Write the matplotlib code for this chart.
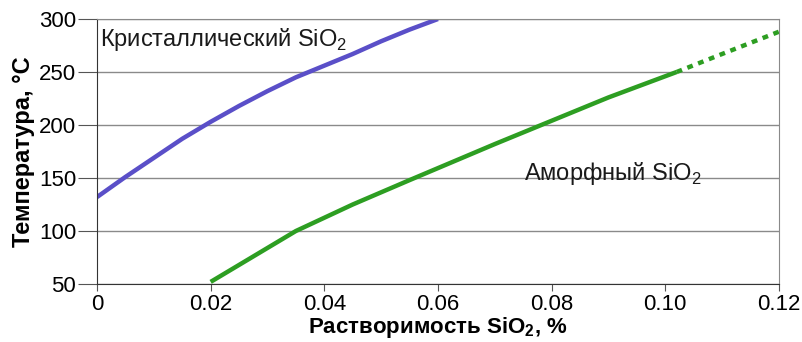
import matplotlib
matplotlib.use("Agg")
import matplotlib.pyplot as plt

plt.rcParams['font.family'] = ['Liberation Sans', 'DejaVu Sans']
plt.rcParams['mathtext.fontset'] = 'custom'
plt.rcParams['mathtext.rm'] = 'Liberation Sans'
plt.rcParams['mathtext.bf'] = 'Liberation Sans:bold'

# crystalline SiO2 solubility curve
cryst_x = [0, 0.005, 0.01, 0.015, 0.02, 0.025, 0.03, 0.035, 0.04, 0.045, 0.05, 0.055, 0.06]
cryst_t = [132, 151, 169, 187, 203, 218, 232, 245, 256, 267, 279, 290, 300]

# amorphous SiO2, measured (solid) and extrapolated (dotted)
amorph_x = [0.02, 0.035, 0.045, 0.055, 0.07, 0.08, 0.09, 0.10, 0.102]
amorph_t = [52, 100, 125, 148, 182, 204, 226, 246, 250]
amorph_ext_x = [0.102, 0.11, 0.12]
amorph_ext_t = [250, 267, 288]

xticks = [0, 0.02, 0.04, 0.06, 0.08, 0.10, 0.12]
xtick_labels = ['0', '0.02', '0.04', '0.06', '0.08', '0.10', '0.12']
yticks = [50, 100, 150, 200, 250, 300]

fig = plt.figure(figsize=(8.03, 3.42), dpi=100)
ax = fig.add_axes([0.1208, 0.1696, 0.8492, 0.7748])

ax.plot(cryst_x, cryst_t, color='#5a4fc8', lw=3.2, solid_capstyle='butt')
ax.plot(amorph_x, amorph_t, color='#2d9e22', lw=3.2, solid_capstyle='butt')
ax.plot(amorph_ext_x, amorph_ext_t, color='#2d9e22', lw=3.2, dashes=(1.3, 1.3))

ax.set_xlim(0, 0.12)
ax.set_ylim(50, 300)
ax.set_xticks(xticks)
ax.set_xticklabels(xtick_labels)
ax.set_yticks(yticks)
ax.yaxis.grid(True, color='#8a8a8a', lw=1)
ax.set_axisbelow(True)

for side in ['left', 'bottom']:
    ax.spines[side].set_color('#333333')
for side in ['top', 'right']:
    ax.spines[side].set_color('#8a8a8a')

ax.tick_params(axis='x', length=5, color='#555555', labelsize=16, pad=2)
ax.tick_params(axis='y', length=14, color='#555555', labelsize=16, pad=1)

ax.set_xlabel(r'Растворимость SiO$_\mathbf{2}$, %', fontsize=16, fontweight='bold', labelpad=0)
ax.set_ylabel('Температура, °C', fontsize=17, fontweight='bold', labelpad=3)

ax.text(0.0005, 281, r'Кристаллический SiO$_2$', fontsize=17, va='center', color='#1a1a1a')
ax.text(0.0752, 154, r'Аморфный SiO$_2$', fontsize=17, va='center', color='#1a1a1a')

fig.savefig('out.png', dpi=100)
